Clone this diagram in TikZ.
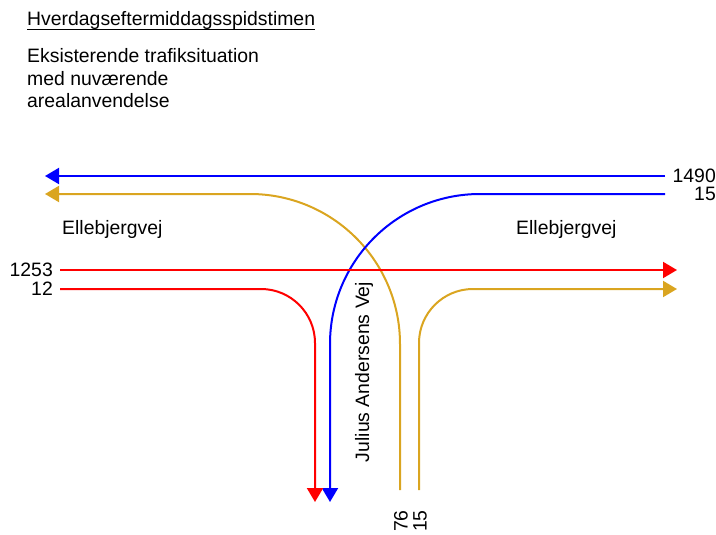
\documentclass[tikz,border=0pt]{standalone}
\usepackage{fontspec}
\setmainfont{Liberation Sans}
\usetikzlibrary{arrows.meta}
\definecolor{gold}{RGB}{218,165,32}

\begin{document}
\begin{tikzpicture}[x=1pt,y=-1pt,flow/.style={line width=2pt, -{Triangle[length=14pt,width=16pt]}}]
    \tikzset{txt/.style={inner sep=0pt, font=\fontsize{19.4}{22.5}\selectfont}}
    \useasboundingbox (0,0) rectangle (716,535);
    \def \rbig {150pt} \def \rsmall {54pt}

    % overskrift
    \node[txt, anchor=base west] (title) at (27,26) {Hverdagseftermiddagsspidstimen};
    \draw[line width=1pt] ([yshift=-3.5pt]title.base west) -- ([yshift=-3.5pt]title.base east);
    % base = sidste linjes grundlinje
    \node[txt, anchor=base west, align=left] (sub) at (27,108) {Eksisterende trafiksituation\\med nuværende\\arealanvendelse};

    % vejnavne
    \node[txt, anchor=base west] (wname) at (62,234) {Ellebjergvej};
    \node[txt, anchor=base west] (ename) at (516,234) {Ellebjergvej};
    \node[txt, rotate=90] (jav) at (364,372) {Julius Andersens Vej};

    % tal
    \node[txt, anchor=east] (n1490) at (716,176) {1490};
    \node[txt, anchor=east] (n15e) at (716,194) {15};
    \node[txt, anchor=east] (n1253) at (53,270) {1253};
    \node[txt, anchor=east] (n12) at (53,289) {12};
    \node[txt, rotate=90] (n76) at (401,521) {76};
    \node[txt, rotate=90] (n15s) at (420,521) {15};

    % endepunkter
    \coordinate (b1s) at (665,176);  \coordinate (b1e) at (45,176);
    \coordinate (b15s) at (665,194); \coordinate (b15e) at (330,502);
    \coordinate (r1s) at (60,270);   \coordinate (r1e) at (677,270);
    \coordinate (r12s) at (60,289);  \coordinate (r12e) at (315,502);
    \coordinate (o76s) at (400,490); \coordinate (o76e) at (45,194);
    \coordinate (o15s) at (419,490); \coordinate (o15e) at (677,289);

    \draw[flow, blue] (b1s) -- (b1e);
    \draw[flow, gold, rounded corners=\rbig] (o76s) |- (o76e);
    \draw[flow, blue, rounded corners=\rbig] (b15s) -| (b15e);
    \draw[flow, red] (r1s) -- (r1e);
    \draw[flow, red, rounded corners=\rsmall] (r12s) -| (r12e);
    \draw[flow, gold, rounded corners=\rsmall] (o15s) |- (o15e);
\end{tikzpicture}
\end{document}
